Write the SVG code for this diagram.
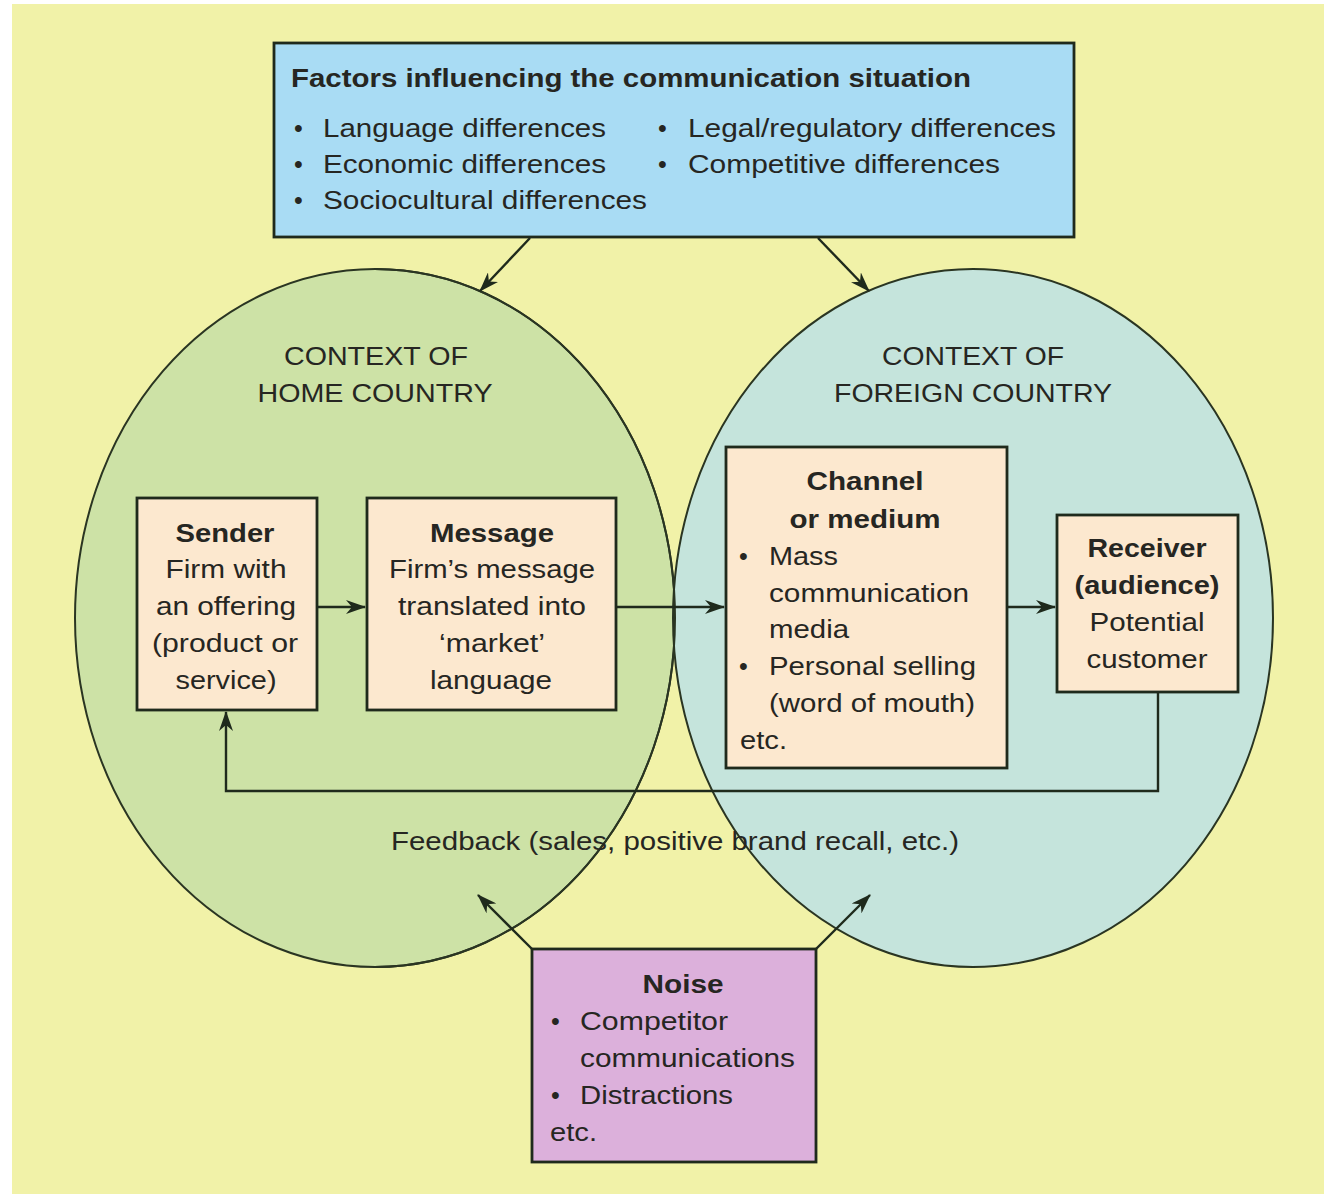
<svg xmlns="http://www.w3.org/2000/svg" width="1324" height="1194" viewBox="0 0 1324 1194">
  <defs>
    <marker id="ah" viewBox="0 0 20 14" refX="19" refY="7" markerWidth="20" markerHeight="14" markerUnits="userSpaceOnUse" orient="auto">
      <path d="M0,0 L20,7 L0,14 L6,7 z" fill="#1f2a1c"/>
    </marker>
  </defs>
  <style>
    text { font-family: "Liberation Sans", Arial, sans-serif; font-size: 25px; fill: #262622; }
    .b { font-weight: bold; }
    .c { text-anchor: middle; }
    .box { stroke: #1f2a1c; stroke-width: 2.8; }
    .ell { stroke: #2a3522; stroke-width: 2; }
    .con { fill: none; stroke: #1f2a1c; stroke-width: 2.4; }
  </style>
  <rect x="0" y="0" width="1324" height="1194" fill="#ffffff"/>
  <rect x="12" y="4" width="1312" height="1190" fill="#f1f2a8"/>

  <g id="home-context">
    <ellipse class="ell" cx="375" cy="618" rx="300" ry="349" fill="#cde2a6"/>
  </g>
  <g id="foreign-context">
    <ellipse class="ell" cx="973" cy="618" rx="300" ry="349" fill="#c5e4dc"/>
    <path class="ell" d="M375,269 A300,349 0 0 1 675,618 A300,349 0 0 1 375,967" fill="none"/>
  </g>
  <g id="context-labels">
    <text class="c" x="376" y="365" textLength="184" lengthAdjust="spacingAndGlyphs">CONTEXT OF</text>
    <text class="c" x="375" y="402" textLength="235" lengthAdjust="spacingAndGlyphs">HOME COUNTRY</text>
    <text class="c" x="973" y="365" textLength="182" lengthAdjust="spacingAndGlyphs">CONTEXT OF</text>
    <text class="c" x="973" y="402" textLength="278" lengthAdjust="spacingAndGlyphs">FOREIGN COUNTRY</text>
  </g>

  <g id="factors">
    <rect class="box" x="274" y="43" width="800" height="194" fill="#a9dcf4"/>
    <text class="b" x="291" y="87" textLength="680" lengthAdjust="spacingAndGlyphs">Factors influencing the communication situation</text>
    <text x="294" y="137">•</text>
    <text x="323" y="137" textLength="283" lengthAdjust="spacingAndGlyphs">Language differences</text>
    <text x="294" y="173">•</text>
    <text x="323" y="173" textLength="283" lengthAdjust="spacingAndGlyphs">Economic differences</text>
    <text x="294" y="209">•</text>
    <text x="323" y="209" textLength="324" lengthAdjust="spacingAndGlyphs">Sociocultural differences</text>
    <text x="658" y="137">•</text>
    <text x="688" y="137" textLength="368" lengthAdjust="spacingAndGlyphs">Legal/regulatory differences</text>
    <text x="658" y="173">•</text>
    <text x="688" y="173" textLength="312" lengthAdjust="spacingAndGlyphs">Competitive differences</text>
  </g>

  <g id="sender">
    <rect class="box" x="137" y="498" width="180" height="212" fill="#fce8cf"/>
    <text class="b c" x="225" y="542" textLength="99" lengthAdjust="spacingAndGlyphs">Sender</text>
    <text class="c" x="226" y="578" textLength="121" lengthAdjust="spacingAndGlyphs">Firm with</text>
    <text class="c" x="226" y="615" textLength="140" lengthAdjust="spacingAndGlyphs">an offering</text>
    <text class="c" x="225" y="652" textLength="146" lengthAdjust="spacingAndGlyphs">(product or</text>
    <text class="c" x="226" y="689" textLength="101" lengthAdjust="spacingAndGlyphs">service)</text>
  </g>

  <g id="message">
    <rect class="box" x="367" y="498" width="249" height="212" fill="#fce8cf"/>
    <text class="b c" x="492" y="542" textLength="124" lengthAdjust="spacingAndGlyphs">Message</text>
    <text class="c" x="492" y="578" textLength="206" lengthAdjust="spacingAndGlyphs">Firm’s message</text>
    <text class="c" x="492" y="615" textLength="188" lengthAdjust="spacingAndGlyphs">translated into</text>
    <text class="c" x="492" y="652" textLength="106" lengthAdjust="spacingAndGlyphs">‘market’</text>
    <text class="c" x="491" y="689" textLength="122" lengthAdjust="spacingAndGlyphs">language</text>
  </g>

  <g id="channel">
    <rect class="box" x="726" y="447" width="281" height="321" fill="#fce8cf"/>
    <text class="b c" x="865" y="490" textLength="117" lengthAdjust="spacingAndGlyphs">Channel</text>
    <text class="b c" x="865" y="528" textLength="151" lengthAdjust="spacingAndGlyphs">or medium</text>
    <text x="739" y="565">•</text>
    <text x="769" y="565" textLength="69" lengthAdjust="spacingAndGlyphs">Mass</text>
    <text x="769" y="602" textLength="200" lengthAdjust="spacingAndGlyphs">communication</text>
    <text x="769" y="638" textLength="80" lengthAdjust="spacingAndGlyphs">media</text>
    <text x="739" y="675">•</text>
    <text x="769" y="675" textLength="207" lengthAdjust="spacingAndGlyphs">Personal selling</text>
    <text x="769" y="712" textLength="206" lengthAdjust="spacingAndGlyphs">(word of mouth)</text>
    <text x="740" y="749" textLength="47" lengthAdjust="spacingAndGlyphs">etc.</text>
  </g>

  <g id="receiver">
    <rect class="box" x="1057" y="515" width="181" height="177" fill="#fce8cf"/>
    <text class="b c" x="1147" y="557" textLength="119" lengthAdjust="spacingAndGlyphs">Receiver</text>
    <text class="b c" x="1147" y="594" textLength="145" lengthAdjust="spacingAndGlyphs">(audience)</text>
    <text class="c" x="1147" y="631" textLength="115" lengthAdjust="spacingAndGlyphs">Potential</text>
    <text class="c" x="1147" y="668" textLength="121" lengthAdjust="spacingAndGlyphs">customer</text>
  </g>

  <g id="noise">
    <rect class="box" x="532" y="949" width="284" height="213" fill="#dcb0db"/>
    <text class="b c" x="683" y="993" textLength="81" lengthAdjust="spacingAndGlyphs">Noise</text>
    <text x="551" y="1030">•</text>
    <text x="580" y="1030" textLength="148" lengthAdjust="spacingAndGlyphs">Competitor</text>
    <text x="580" y="1067" textLength="215" lengthAdjust="spacingAndGlyphs">communications</text>
    <text x="551" y="1104">•</text>
    <text x="580" y="1104" textLength="153" lengthAdjust="spacingAndGlyphs">Distractions</text>
    <text x="550" y="1141" textLength="47" lengthAdjust="spacingAndGlyphs">etc.</text>
  </g>

  <g id="connectors">
    <line class="con" x1="530" y1="238" x2="480" y2="291" marker-end="url(#ah)"/>
    <line class="con" x1="818" y1="238" x2="869" y2="291" marker-end="url(#ah)"/>
    <line class="con" x1="318" y1="607" x2="365" y2="607" marker-end="url(#ah)"/>
    <line class="con" x1="617" y1="607" x2="724" y2="607" marker-end="url(#ah)"/>
    <line class="con" x1="1008" y1="607" x2="1055" y2="607" marker-end="url(#ah)"/>
    <polyline class="con" points="1158,692 1158,791 226,791 226,712" marker-end="url(#ah)"/>
    <line class="con" x1="532" y1="949" x2="478" y2="895" marker-end="url(#ah)"/>
    <line class="con" x1="816" y1="949" x2="870" y2="895" marker-end="url(#ah)"/>
    <text id="feedback-label" x="391" y="850" textLength="568" lengthAdjust="spacingAndGlyphs">Feedback (sales, positive brand recall, etc.)</text>
  </g>
</svg>
